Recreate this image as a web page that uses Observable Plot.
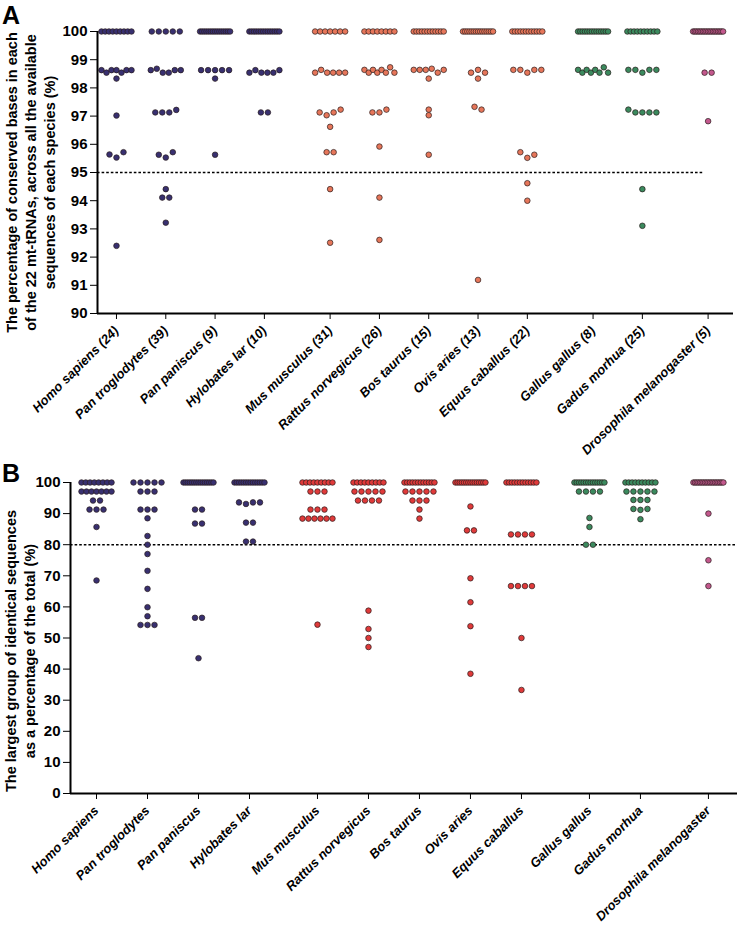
<!DOCTYPE html>
<html><head><meta charset="utf-8">
<script src="https://cdn.jsdelivr.net/npm/d3@7"></script>
<script src="https://cdn.jsdelivr.net/npm/@observablehq/plot@0.6"></script>
<style>
body{margin:0;background:#fff;}
#wrap{position:relative;width:738px;height:930px;font-family:"Liberation Sans",Arial,sans-serif;overflow:hidden;}
.letter{position:absolute;font-weight:bold;font-size:25px;line-height:1;}
#A{position:absolute;left:0;top:0}
#B{position:absolute;left:0;top:460px}
svg [aria-label^="x-axis"] text{font-style:italic;font-size:13px;}
svg [aria-label^="y-axis"] text{font-size:15px;}
</style></head><body>
<div id="wrap">
<div id="A"></div><div id="B"></div>
<div class="letter" style="left:2px;top:3px">A</div>
<div class="letter" style="left:2px;top:461px">B</div>
</div>
<script>
// ---- categories ----
const species = ["Homo sapiens","Pan troglodytes","Pan paniscus","Hylobates lar","Mus musculus","Rattus norvegicus","Bos taurus","Ovis aries","Equus caballus","Gallus gallus","Gadus morhua","Drosophila melanogaster"];
const seqCounts = [24,39,9,10,31,26,15,13,22,8,25,5];
const groupOf = ["primate","primate","primate","primate","mammal","mammal","mammal","mammal","mammal","other","other","insect"];
const groups = ["primate","mammal","other","insect"];
const colorsA = ["#383070","#e6765a","#3b8a5e","#c3588d"];
const colorsB = ["#383070","#e03a3a","#3b8a5e","#c3588d"];
const yTicksA = [90,91,92,93,94,95,96,97,98,99,100];
const yTicksB = [0,10,20,30,40,50,60,70,80,90,100];
const thresholdA = 95, thresholdB = 80;
const titleA = "The percentage of conserved bases in each\nof the 22 mt-tRNAs, across all the available\nsequences of each species (%)";
const titleB = "The largest group of identical sequences\nas a percentage of the total (%)";

// ---- panel A values (22 mt-tRNAs per species) ----
const aHomo = [100,100,100,100,100,100,100,100,100, 98.63,98.54,98.63,98.63,98.54,98.63,98.63, 98.33, 97.02, 95.64,95.53,95.72, 92.4];
const aPanTro = [100,100,100,100,100, 98.63,98.68,98.54,98.54,98.63,98.63, 97.13,97.13,97.13,97.22, 95.63,95.53,95.72, 94.41, 94.11,94.11, 93.22];
const aPanPan = [100,100,100,100,100,100,100,100,100,100,100,100,100,100,100, 98.63,98.63,98.63,98.63,98.63, 98.33, 95.63];
const aHylo = [100,100,100,100,100,100,100,100,100,100,100,100,100,100, 98.54,98.63,98.54,98.54,98.54,98.63, 97.13,97.13];
const aMus = [100,100,100,100,100,100,100, 98.54,98.64,98.54,98.54,98.54,98.54, 97.13,97.03,97.13,97.23, 96.62, 95.72,95.72, 94.41, 92.51];
const aRat = [100,100,100,100,100,100,100,100, 98.64,98.54,98.64,98.54,98.64,98.54,98.73,98.54, 97.13,97.13,97.23, 95.92, 94.11, 92.61];
const aBos = [100,100,100,100,100,100,100,100,100,100,100,100, 98.64,98.64,98.64,98.68,98.54,98.64, 98.33, 97.23, 97.03, 95.63];
const aOvis = [100,100,100,100,100,100,100,100,100,100,100,100,100,100,100, 98.54,98.64,98.54, 98.33, 97.33,97.23, 91.19];
const aEquus = [100,100,100,100,100,100,100,100,100,100,100,100, 98.64,98.64,98.54,98.64,98.64, 95.72,95.52,95.63, 94.62, 94.0];
const aGallus = [100,100,100,100,100,100,100,100,100,100,100,100,100,100, 98.64,98.54,98.64,98.54,98.64,98.54,98.73,98.54];
const aGadus = [100,100,100,100,100,100,100,100,100,100, 98.64,98.64,98.54,98.64,98.64, 97.23,97.13,97.13,97.13,97.13, 94.41, 93.11];
const aDroso = [100,100,100,100,100,100,100,100,100,100,100,100,100,100,100,100,100,100,100, 98.54,98.54, 96.82];

// ---- panel B values ----
const bHomo = [100,100,100,100,100,100,100,100, 97.1,97.1,97.1,97.1,97.1,97.1,97.1, 94.2,94.2, 91.3,91.3,91.3, 85.7, 68.5];
const bPanTro = [100,100,100,100,100, 97.1,97.1,97.1, 91.3,91.3,91.3, 88.5, 82.8, 80.0, 77.0, 71.6, 65.8, 59.9, 57.0, 54.2,54.2,54.2];
const bPanPan = [100,100,100,100,100,100,100,100,100,100,100,100,100,100,100, 91.3,91.3, 86.8,86.8, 56.5,56.5, 43.5];
const bHylo = [100,100,100,100,100,100,100,100,100,100,100,100,100,100, 93.6,93.1,93.6,93.6, 87.1,87.1, 81.0,81.0];
const bMus = [100,100,100,100,100,100,100,100,100, 97.1,97.1,97.1, 91.3,91.3,91.3, 88.4,88.4,88.4,88.4,88.4,88.4, 54.3];
const bRat = [100,100,100,100,100,100,100,100,100, 97.1,97.1,97.1,97.1,97.1, 94.2,94.2,94.2,94.2, 58.8, 52.9, 50.0, 47.1];
const bBos = [100,100,100,100,100,100,100,100,100,100,100,100, 97.1,97.1,97.1,97.1,97.1, 94.2,94.2,94.2, 91.3, 88.4];
const bOvis = [100,100,100,100,100,100,100,100,100,100,100,100,100,100,100, 92.3, 84.6,84.6, 69.2, 61.5, 53.8, 38.5];
const bEquus = [100,100,100,100,100,100,100,100,100,100,100,100, 83.3,83.3,83.3,83.3, 66.7,66.7,66.7,66.7, 50.0, 33.3];
const bGallus = [100,100,100,100,100,100,100,100,100,100,100,100,100,100, 97.1,97.1,97.1,97.1, 88.6, 85.7, 80.0,80.0];
const bGadus = [100,100,100,100,100,100,100,100,100,100, 97.1,97.1,97.1,97.1,97.1, 94.4,94.4,94.4, 91.5,91.2,91.5, 88.2];
const bDroso = [100,100,100,100,100,100,100,100,100,100,100,100,100,100,100,100,100,100,100, 90.0, 75.0, 66.7];

const valuesA = [aHomo,aPanTro,aPanPan,aHylo,aMus,aRat,aBos,aOvis,aEquus,aGallus,aGadus,aDroso];
const valuesB = [bHomo,bPanTro,bPanPan,bHylo,bMus,bRat,bBos,bOvis,bEquus,bGallus,bGadus,bDroso];

// category positions: unit spacing, extra third-of-a-slot gap between taxonomic groups
const positions = species.map((s, i) => i + groups.indexOf(groupOf[i]) / 3);

// Prism-like horizontal spreading of points sharing (nearly) the same value
function swarm(values, pxY, pxX) {
  const idx = values.map((v, i) => i).sort((a, b) => values[b] - values[a] || a - b);
  const clusters = []; let cur = [];
  for (const i of idx) {
    if (cur.length && (values[cur[cur.length - 1]] - values[i]) * pxY >= 5) { clusters.push(cur); cur = []; }
    cur.push(i);
  }
  if (cur.length) clusters.push(cur);
  const off = new Array(values.length).fill(0);
  for (const c of clusters) {
    c.sort((a, b) => a - b);
    const n = c.length, s = n > 1 ? Math.min(7, 30 / (n - 1)) : 0;
    c.forEach((i, k) => off[i] = (k - (n - 1) / 2) * s / pxX);
  }
  return off;
}

function panel(cfg) {
  const {values, labels, colors, yDomain, yTicks, threshold, thresholdEnd, xDomain, width, height, ml, mr, mt, mb, title, titleDx, titleDy} = cfg;
  const pxY = (height - mt - mb) / (yDomain[1] - yDomain[0]);
  const pxX = (width - ml - mr) / (xDomain[1] - xDomain[0]);
  const rows = [];
  values.forEach((vals, i) => {
    const off = swarm(vals, pxY, pxX);
    vals.forEach((v, k) => rows.push({x: positions[i] + off[k], y: v, g: groupOf[i]}));
  });
  return Plot.plot({
    width, height, marginLeft: ml, marginRight: mr, marginTop: mt, marginBottom: mb,
    style: {fontFamily: "'Liberation Sans', Arial, sans-serif", fontSize: "14px", fontWeight: "bold", color: "#000", background: "transparent"},
    x: {domain: xDomain, ticks: positions, tickFormat: d => labels[positions.findIndex(p => Math.abs(p - d) < 1e-6)], tickRotate: -45, tickSize: 6, tickPadding: 9, label: null},
    y: {domain: yDomain, ticks: yTicks, tickSize: 7, tickPadding: 3, label: null},
    color: {domain: groups, range: colors},
    marks: [
      Plot.ruleY([threshold], {x1: xDomain[0], x2: thresholdEnd, stroke: "#000", strokeWidth: 1.6, strokeDasharray: "2.6,2"}),
      Plot.dot(rows, {x: "x", y: "y", fill: "g", r: 2.8, stroke: "#2a1c1c", strokeWidth: 0.7}),
      Plot.ruleX([xDomain[0]], {stroke: "#000", strokeWidth: 2}),
      Plot.ruleY([yDomain[0]], {stroke: "#000", strokeWidth: 2}),
      Plot.text([title], {frameAnchor: "left", dx: titleDx, dy: titleDy, rotate: -90, fontSize: 14.5, fontWeight: "bold", lineHeight: 1.32, textAnchor: "middle", fill: "#000"})
    ]
  });
}

const xDomA = [-0.385, 12.515];
const svgA = panel({
  values: valuesA, labels: species.map((s, i) => `${s} (${seqCounts[i]})`), colors: colorsA,
  yDomain: [90, 100], yTicks: yTicksA, threshold: thresholdA, thresholdEnd: positions[11] - 0.1,
  xDomain: xDomA, width: 738, height: 460, ml: 97, mr: 5, mt: 31, mb: 147,
  title: titleA, titleDx: -68, titleDy: 10
});
document.getElementById("A").appendChild(svgA);

const xDomB = [-0.51, 12.57];
const svgB = panel({
  values: valuesB, labels: species, colors: colorsB,
  yDomain: [0, 100], yTicks: yTicksB, threshold: thresholdB, thresholdEnd: xDomB[1],
  xDomain: xDomB, width: 738, height: 470, ml: 70, mr: 1, mt: 22, mb: 137,
  title: titleB, titleDx: -51, titleDy: 13
});
document.getElementById("B").appendChild(svgB);
</script>
</body></html>
